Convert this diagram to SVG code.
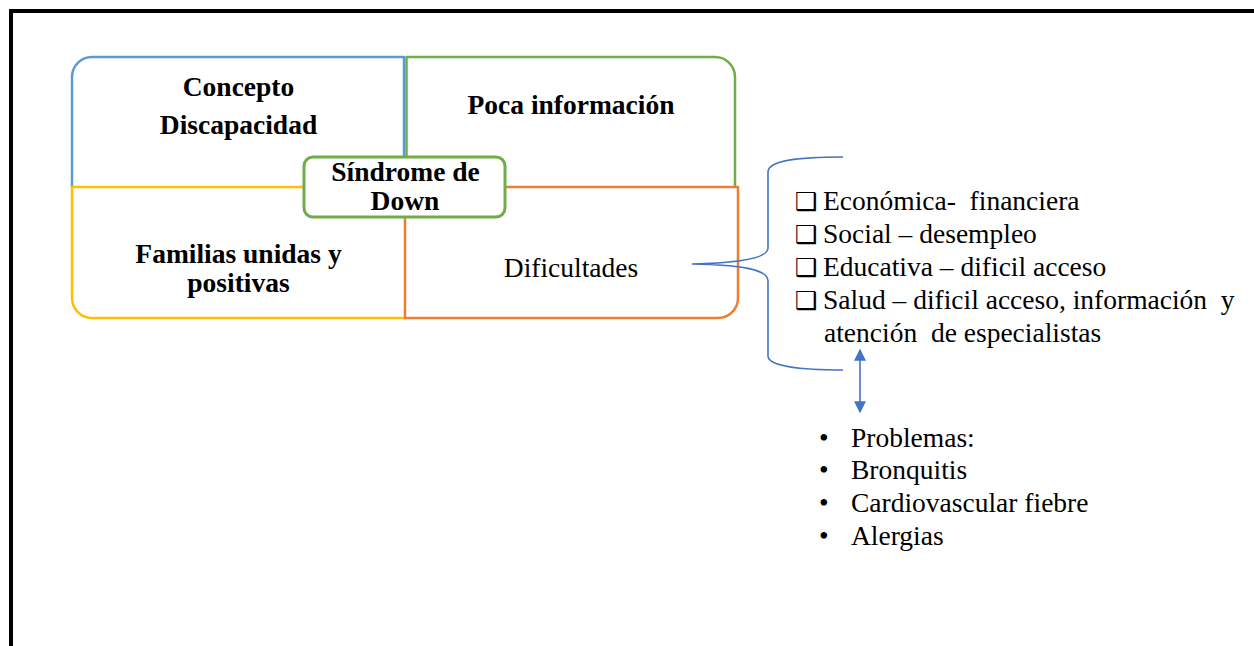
<svg xmlns="http://www.w3.org/2000/svg" width="1254" height="646" viewBox="0 0 1254 646">
<defs>
<style>
.frame{fill:none;stroke:#000;stroke-width:4}
.q{fill:none;stroke-width:2.5;stroke-linejoin:round}
.b{font-family:"Liberation Serif","Times New Roman",serif;font-weight:bold;font-size:27.5px;fill:#000;text-anchor:middle}
.r{font-family:"Liberation Serif","Times New Roman",serif;font-size:27.5px;fill:#000;white-space:pre}
.chk{font-family:"DejaVu Sans",sans-serif;font-weight:bold;font-size:25px;fill:#000}
.conn{fill:none;stroke:#4472C4;stroke-width:1.6}
</style>
<marker id="ah" viewBox="0 0 10 10" refX="9" refY="5" markerWidth="14" markerHeight="12" markerUnits="userSpaceOnUse" orient="auto-start-reverse">
<path d="M0 0 L10 5 L0 10 Z" fill="#4472C4"/>
</marker>
</defs>
<rect x="0" y="0" width="1254" height="646" fill="#fff"/>
<rect class="frame" x="11" y="11" width="1270" height="660"/>
<g id="concepto">
<path class="q" stroke="#5B9BD5" d="M404 157 L404 57 L92 57 A20 20 0 0 0 72 77 L72 187"/>
<text class="b" x="238.5" y="96">Concepto</text>
<text class="b" x="238.5" y="134">Discapacidad</text>
</g>
<g id="poca">
<path class="q" stroke="#70AD47" d="M406.5 157 L406.5 57 L715 57 A20 20 0 0 1 735 77 L735 187"/>
<text class="b" x="571" y="114">Poca información</text>
</g>
<g id="familias">
<path class="q" stroke="#FFC000" d="M304 187 L72 187 L72 298 A20 20 0 0 0 92 318 L405 318"/>
<text class="b" x="238.5" y="263">Familias unidas y</text>
<text class="b" x="238.5" y="292">positivas</text>
</g>
<g id="dificultades">
<path class="q" stroke="#ED7D31" d="M505 187 L738 187 L738 298 A20 20 0 0 1 718 318 L405 318 L405 217"/>
<text class="r" x="571" y="277" text-anchor="middle">Dificultades</text>
</g>
<g id="sindrome">
<rect x="304" y="157" width="201" height="60" rx="9" fill="#fff" stroke="#70AD47" stroke-width="3"/>
<text class="b" x="405.5" y="181">Síndrome de</text>
<text class="b" x="405" y="210">Down</text>
</g>
<g id="lista">
<text class="chk" x="795" y="210">❑</text>
<text class="r" x="823" y="210">Económica-  financiera</text>
<text class="chk" x="795" y="243">❑</text>
<text class="r" x="823" y="243">Social – desempleo</text>
<text class="chk" x="795" y="276">❑</text>
<text class="r" x="823" y="276">Educativa – dificil acceso</text>
<text class="chk" x="795" y="309">❑</text>
<text class="r" x="823" y="309">Salud – dificil acceso, información  y</text>
<text class="r" x="824" y="342">atención  de especialistas</text>
</g>
<g id="problemas">
<text class="r" x="819" y="447">•</text>
<text class="r" x="851" y="447">Problemas:</text>
<text class="r" x="819" y="479">•</text>
<text class="r" x="851" y="479">Bronquitis</text>
<text class="r" x="819" y="512">•</text>
<text class="r" x="851" y="512">Cardiovascular fiebre</text>
<text class="r" x="819" y="545">•</text>
<text class="r" x="851" y="545">Alergias</text>
</g>
<g id="connectors">
<path class="conn" d="M843 157 C800 157 768 160 768 172 L768 248 C768 258 740 263 692 264 C740 265 768 269 768 281 L768 356 C768 366 800 370 843 370"/>
<line class="conn" x1="860" y1="350" x2="860" y2="412" stroke-width="2" marker-start="url(#ah)" marker-end="url(#ah)"/>
</g>
</svg>
